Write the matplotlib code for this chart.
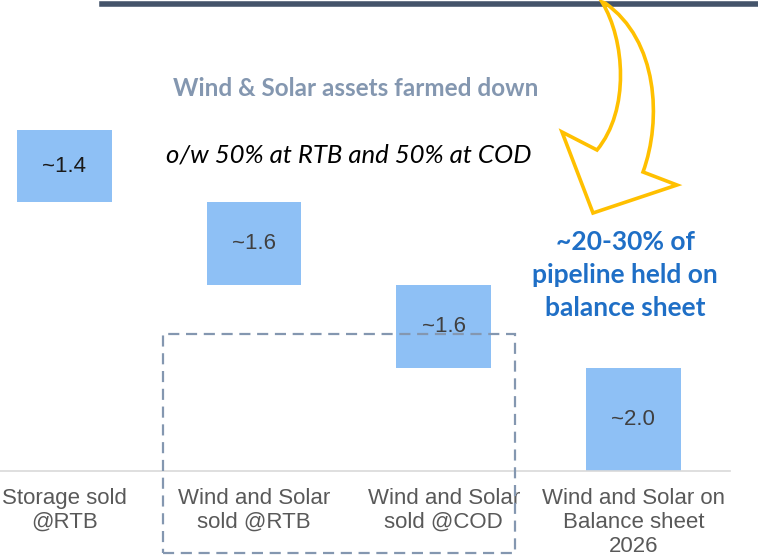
import matplotlib
matplotlib.use("Agg")
import matplotlib.pyplot as plt
from matplotlib.path import Path
from matplotlib.patches import PathPatch, Rectangle
from matplotlib.lines import Line2D

categories = ["Storage sold\n@RTB", "Wind and Solar\nsold @RTB",
              "Wind and Solar\nsold @COD", "Wind and Solar on\nBalance sheet\n2026"]
values = [1.4, 1.6, 1.6, 2.0]
value_labels = ["~1.4", "~1.6", "~1.6", "~2.0"]
value_colors = ["#1a1a1a", "#404040", "#404040", "#404040"]

W, H = 758, 560
fig = plt.figure(figsize=(W / 100, H / 100), dpi=100)

def px(x, y):
    return (x / W, 1 - y / H)

# axes: baseline at y=471px, full scale 51.67 px per unit
ax = fig.add_axes([0, (H - 471) / H, 730 / W, 471 / H])
ax.set_xlim(-0.34, 3.51)
ax.set_ylim(0, 471 / 51.67)

total = sum(values)
bottoms = []
running = total
for v in values[:-1]:
    running -= v
    bottoms.append(running)
bottoms.append(0)

x = list(range(len(categories)))
bars = ax.bar(x, values, bottom=bottoms, width=0.5, color="#8EC0F5", zorder=2)
for xi, b, v, lab, c in zip(x, bottoms, values, value_labels, value_colors):
    ax.text(xi, b + v / 2, lab, ha="center", va="center", fontsize=16,
            family="Liberation Sans", color=c, zorder=3)

for s in ["top", "left", "right"]:
    ax.spines[s].set_visible(False)
ax.spines["bottom"].set_color("#D9D9D9")
ax.spines["bottom"].set_linewidth(1.2)
ax.set_yticks([])
ax.set_xticks(x)
ax.set_xticklabels(categories, fontsize=16, family="Liberation Sans",
                   color="#595959", linespacing=1.2, va="top")
ax.tick_params(axis="x", length=0, pad=12)
ax.patch.set_alpha(0)

# top dark line
fig.add_artist(Line2D([102 / W, 1], [1 - 4 / H, 1 - 4 / H], color="#44546A",
                      lw=4, transform=fig.transFigure))

# texts
fig.text(*px(356, 89), "Wind & Solar assets farmed down", ha="center", va="center",
         fontsize=17.5, fontweight="bold", family="Lato", color="#8497B0")
fig.text(*px(349, 155), "o/w 50% at RTB and 50% at COD", ha="center", va="center",
         fontsize=18.5, style="italic", family="Lato", color="#000000")
fig.text(*px(625, 275), "~20-30% of\npipeline held on\nbalance sheet", ha="center",
         va="center", fontsize=19, fontweight="bold", family="Lato", color="#1F6FC6",
         linespacing=1.45)

# dashed box
fig.add_artist(Rectangle(px(163, 553), (515 - 163) / W, (553 - 334) / H,
                         transform=fig.transFigure, fill=False, edgecolor="#8497B0",
                         lw=1.6, linestyle=(0, (5, 3)), zorder=5))

# curved arrow outline
verts = [(602, 2), (625, 40), (630, 110), (597, 150),
         (562, 132), (593, 213), (677, 185), (643, 172),
         (662, 120), (658, 40), (605, 3), (602, 2)]
codes = [Path.MOVETO, Path.CURVE4, Path.CURVE4, Path.CURVE4,
         Path.LINETO, Path.LINETO, Path.LINETO, Path.LINETO,
         Path.CURVE4, Path.CURVE4, Path.CURVE4, Path.CLOSEPOLY]
verts_f = [px(a, b) for a, b in verts]
fig.add_artist(PathPatch(Path(verts_f, codes), transform=fig.transFigure,
                         facecolor="none", edgecolor="#FFC000", lw=2.6,
                         joinstyle="miter", zorder=6))

fig.savefig("out.png", dpi=100)
